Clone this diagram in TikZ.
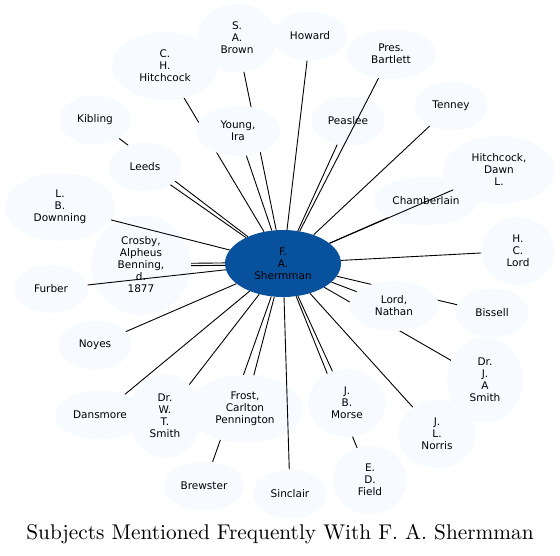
\documentclass[tikz,border=0pt]{standalone}
\usepackage{fontspec}
\setsansfont{DejaVu Sans}
\newfontfamily\titlefont{lmroman10-regular}[Extension=.otf]
\usetikzlibrary{shapes.geometric}
\definecolor{hub}{HTML}{08519C}
\definecolor{leaf}{HTML}{F7FBFF}
\tikzset{
  person/.style={ellipse, fill=leaf, inner sep=0pt, align=center,
    font=\sffamily\fontsize{10.5}{12}\selectfont},
  hubnode/.style={ellipse, fill=hub, inner sep=0pt, align=center,
    font=\sffamily\fontsize{10.5}{12}\selectfont},
  link/.style={line width=0.9pt, black},
  titletext/.style={font=\titlefont\fontsize{21.3}{24}\selectfont, anchor=base, inner sep=0pt},
}
\newcommand{\person}[6]{\node[person, minimum width=#4pt, minimum height=#5pt] (#1) at (#2,#3) {#6};}
\begin{document}
\begin{tikzpicture}[x=1pt,y=-1pt]
\useasboundingbox (0,0) rectangle (560,555);
% hub (placed first so edges can refer to it)
\node[hubnode, minimum width=116pt, minimum height=67pt] (c) at (283,263.5) {F.\\A.\\Shermman};
% phantom copies of nodes whose edges are hidden behind other nodes
\begin{scope}[every node/.append style={opacity=0}]
\person{hhc}{165}{66}{106}{68}{C.\\H.\\Hitchcock}
\person{brown}{237}{38}{80}{68}{S.\\A.\\Brown}
\person{kibling}{95}{120}{72}{49}{Kibling}
\person{brewster}{204}{486}{81}{49}{Brewster}
\person{field}{370}{480}{74}{68}{E.\\D.\\Field}
\person{bissell}{492}{313}{73}{49}{Bissell}
\person{drjas}{485}{380}{76}{85}{Dr.\\J.\\A\\Smith}
\end{scope}
% edges hidden behind other nodes
\foreach \n in {hhc,brown,kibling,brewster,field,bissell,drjas}
  \draw[link] (c) -- (\n);
% all leaf nodes
\person{hhc}{165}{66}{106}{68}{C.\\H.\\Hitchcock}
\person{brown}{237}{38}{80}{68}{S.\\A.\\Brown}
\person{howard}{310}{36}{74}{49}{Howard}
\person{bartlett}{391}{54}{90}{50}{Pres.\\Bartlett}
\person{kibling}{95}{120}{72}{49}{Kibling}
\person{peaslee}{348}{121}{74}{49}{Peaslee}
\person{tenney}{451}{106}{73}{49}{Tenney}
\person{downning}{60}{207}{110}{68}{L.\\B.\\Downning}
\person{dawn}{499}{170}{112}{68}{Hitchcock,\\Dawn\\L.}
\person{chamberlain}{426}{201}{104}{49}{Chamberlain}
\person{crosby}{141}{265}{100}{100}{Crosby,\\Alpheus\\Benning,\\d.\\1877}
\person{hclord}{518}{251}{73}{68}{H.\\C.\\Lord}
\person{furber}{51}{289}{74}{48}{Furber}
\person{bissell}{492}{313}{73}{49}{Bissell}
\person{noyes}{95}{345}{73}{49}{Noyes}
\person{drjas}{485}{380}{76}{85}{Dr.\\J.\\A\\Smith}
\person{dansmore}{100}{415}{90}{49}{Dansmore}
\person{drwts}{165}{416}{73}{84}{Dr.\\W.\\T.\\Smith}
\person{norris}{437}{434}{78}{68}{J.\\L.\\Norris}
\person{brewster}{204}{486}{81}{49}{Brewster}
\person{sinclair}{290}{494}{74}{49}{Sinclair}
\person{field}{370}{480}{74}{68}{E.\\D.\\Field}
% nodes that cover edges
\person{young}{238}{131}{84}{50}{Young,\\Ira}
\person{leeds}{145}{167}{73}{49}{Leeds}
\person{frost}{245}{409}{116}{68}{Frost,\\Carlton\\Pennington}
\person{morse}{347}{403}{78}{68}{J.\\B.\\Morse}
\person{lnathan}{394}{306}{90}{50}{Lord,\\Nathan}
% visible edges
\foreach \n in {howard,bartlett,peaslee,tenney,downning,dawn,chamberlain,hclord,
  furber,noyes,dansmore,drwts,norris,sinclair,young,leeds,frost,morse,lnathan}
  \draw[link] (c) -- (\n);
\draw[link, transform canvas={yshift=1.2pt}] (c) -- (crosby);
\draw[link, transform canvas={yshift=-1.2pt}] (c) -- (crosby);
% title
\node[titletext] (title) at (280,539) {Subjects Mentioned Frequently With F. A. Shermman};
\end{tikzpicture}
\end{document}
